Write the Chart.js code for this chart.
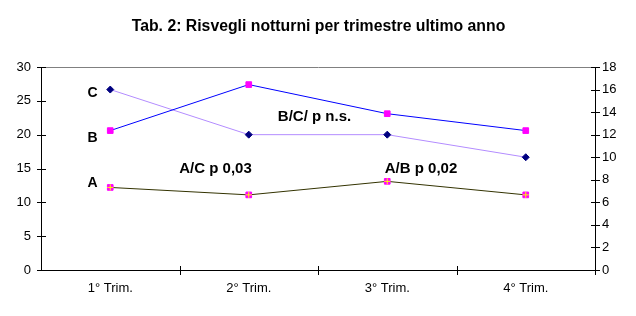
<!DOCTYPE html>
<html><head><meta charset="utf-8">
<script src="https://cdn.jsdelivr.net/npm/chart.js@4/dist/chart.umd.min.js"></script>
<style>html,body{margin:0;padding:0;background:#fff;} #wrap{width:636px;height:316px;}</style>
</head><body><div id="wrap"><canvas id="c" width="636" height="316"></canvas></div>
<script>
const categories = ['1° Trim.', '2° Trim.', '3° Trim.', '4° Trim.'];
const seriesA = [12.2, 11.1, 13.1, 11.1];   // left axis
const seriesB = [20.6, 27.4, 23.1, 20.6];   // left axis
const seriesC = [16, 12, 12, 10];           // right axis
const seriesNames = ['A', 'B', 'C'];
const titleText = 'Tab. 2: Risvegli notturni per trimestre ultimo anno';
const notes = ['A/C p 0,03', 'B/C/ p n.s.', 'A/B p 0,02'];
const leftRange = [0, 30, 5];
const rightRange = [0, 18, 2];

const FONT = '"Liberation Sans", Arial, sans-serif';

const decor = {
  id: 'decor',
  afterDraw(chart) {
    const ctx = chart.ctx, a = chart.chartArea;
    const x = chart.scales.x, y = chart.scales.y, y1 = chart.scales.y1;
    ctx.save();
    // top frame line
    ctx.strokeStyle = '#808080'; ctx.lineWidth = 1;
    ctx.beginPath(); ctx.moveTo(Math.round(a.left) + 0.5, Math.round(a.top) + 0.5);
    ctx.lineTo(Math.round(a.right) + 0.5, Math.round(a.top) + 0.5); ctx.stroke();
    // tick marks crossing axes
    ctx.strokeStyle = '#000';
    ctx.beginPath();
    y.ticks.forEach(t => {
      const py = Math.round(y.getPixelForValue(t.value)) + 0.5;
      const px = Math.round(a.left);
      ctx.moveTo(px - 4, py); ctx.lineTo(px + 5, py);
    });
    y1.ticks.forEach(t => {
      const py = Math.round(y1.getPixelForValue(t.value)) + 0.5;
      const px = Math.round(a.right);
      ctx.moveTo(px - 4, py); ctx.lineTo(px + 5, py);
    });
    for (let i = 0; i < categories.length; i++) {
      const bx = i < categories.length - 1 ? (x.getPixelForValue(i) + x.getPixelForValue(i + 1)) / 2 : a.right;
      const px = Math.round(bx) + 0.5, py = Math.round(a.bottom);
      ctx.moveTo(px, py - 4); ctx.lineTo(px, py + 5);
    }
    ctx.stroke();
    // title
    ctx.fillStyle = '#000';
    ctx.textAlign = 'center'; ctx.textBaseline = 'alphabetic';
    ctx.font = 'bold 15.8px ' + FONT;
    ctx.fillText(titleText, 318.5, 31);
    // series labels
    ctx.font = 'bold 14px ' + FONT;
    ctx.fillText(seriesNames[2], 92.5, 97);
    ctx.fillText(seriesNames[1], 92.5, 142);
    ctx.fillText(seriesNames[0], 92.5, 187);
    // notes
    ctx.font = 'bold 15px ' + FONT;
    ctx.fillText(notes[0], 215.5, 173);
    ctx.fillText(notes[1], 314.5, 121);
    ctx.fillText(notes[2], 421, 173);
    ctx.restore();
  }
};

new Chart(document.getElementById('c'), {
  type: 'line',
  data: {
    labels: categories,
    datasets: [
      { label: seriesNames[0] + ' cross', data: seriesA, yAxisID: 'y', showLine: false,
        pointStyle: 'cross', pointRadius: 3, pointBorderColor: '#FFFF00', pointBorderWidth: 1,
        pointBackgroundColor: '#FFFF00' },
      { label: seriesNames[0], data: seriesA, yAxisID: 'y', borderColor: '#333300', borderWidth: 1,
        pointStyle: 'rect', pointRadius: 4, pointBackgroundColor: '#FF00FF', pointBorderColor: '#FF00FF',
        pointBorderWidth: 1, tension: 0 },
      { label: seriesNames[1], data: seriesB, yAxisID: 'y', borderColor: '#0000FF', borderWidth: 1,
        pointStyle: 'rect', pointRadius: 4, pointBackgroundColor: '#FF00FF', pointBorderColor: '#FF00FF',
        pointBorderWidth: 1, tension: 0 },
      { label: seriesNames[2], data: seriesC, yAxisID: 'y1', borderColor: '#B38CFF', borderWidth: 1,
        pointStyle: 'rectRot', pointRadius: 3.5, pointBackgroundColor: '#000080', pointBorderColor: '#000080',
        pointBorderWidth: 1, tension: 0 }
    ]
  },
  options: {
    responsive: false, animation: false, devicePixelRatio: 1,
    layout: { padding: { top: 67, left: 0, right: 0, bottom: 0 } },
    plugins: { legend: { display: false }, title: { display: false }, tooltip: { enabled: false } },
    scales: {
      x: {
        type: 'category', offset: true,
        grid: { display: true, color: 'rgba(0,0,0,0)', drawTicks: false, offset: true },
        border: { display: true, color: '#000', width: 1 },
        ticks: { color: '#000', font: { family: FONT, size: 13 }, padding: 11, maxRotation: 0, autoSkip: false },
        afterFit(s) { s.height = 46; }
      },
      y: {
        position: 'left', min: leftRange[0], max: leftRange[1],
        grid: { display: true, color: 'rgba(0,0,0,0)', drawTicks: false },
        border: { display: true, color: '#000', width: 1 },
        ticks: { stepSize: leftRange[2], color: '#000', font: { family: FONT, size: 13 }, padding: 10 },
        afterFit(s) { s.width = 41; }
      },
      y1: {
        position: 'right', min: rightRange[0], max: rightRange[1],
        grid: { display: true, color: 'rgba(0,0,0,0)', drawTicks: false, drawOnChartArea: false },
        border: { display: true, color: '#000', width: 1 },
        ticks: { stepSize: rightRange[2], color: '#000', font: { family: FONT, size: 13 }, padding: 7 },
        afterFit(s) { s.width = 41; }
      }
    }
  },
  plugins: [decor]
});
</script>
</body></html>
